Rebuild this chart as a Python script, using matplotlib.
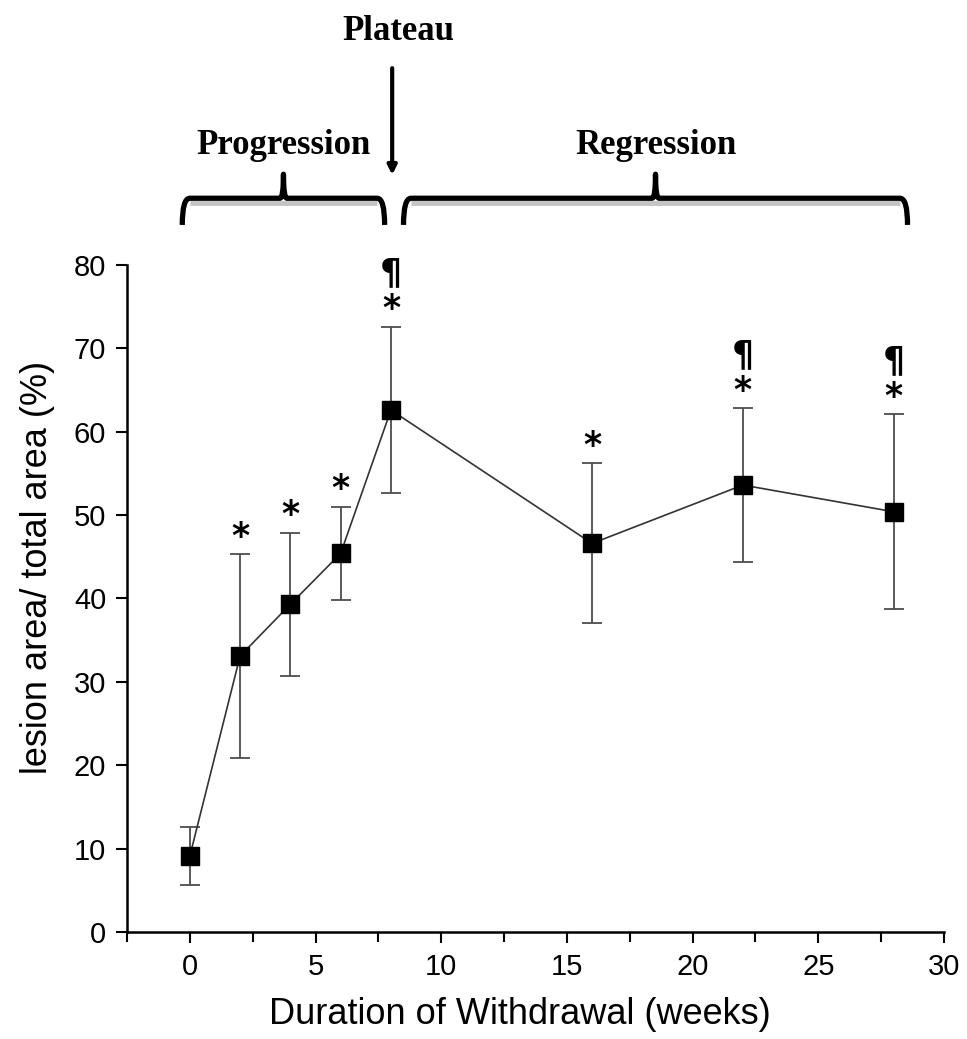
import numpy as np
import matplotlib
matplotlib.use("Agg")
import matplotlib.pyplot as plt
from matplotlib.path import Path
from matplotlib.patches import PathPatch

# data
weeks = [0, 2, 4, 6, 8, 16, 22, 28]
lesion_pct = [9.1, 33.1, 39.3, 45.4, 62.6, 46.6, 53.6, 50.4]
lesion_err = [3.5, 12.2, 8.6, 5.6, 10.0, 9.6, 9.2, 11.7]
star = [False, True, True, True, True, True, True, True]
pilcrow = [False, False, False, False, True, False, True, True]

phases = ["Progression", "Regression"]
phase_span = [(-0.3, 7.75), (8.5, 28.55)]


def draw_brace(ax, x0, x1, y_bot, y_top, y_tip, r=0.3, r_tip=0.14):
    tr = ax.get_xaxis_transform()
    xm = (x0 + x1) / 2
    # grey shadow under the brace
    ax.plot([x0 + r, x1 - r], [y_top - 0.007, y_top - 0.007], color="#c4c4c4",
            lw=3.5, transform=tr, clip_on=False, solid_capstyle="butt")
    verts = [(x0, y_bot), (x0, y_top), (x0 + r, y_top),
             (xm - r_tip, y_top), (xm, y_top), (xm, y_tip),
             (xm, y_top), (xm + r_tip, y_top),
             (x1 - r, y_top), (x1, y_top), (x1, y_bot)]
    codes = [Path.MOVETO, Path.CURVE3, Path.CURVE3,
             Path.LINETO, Path.CURVE3, Path.CURVE3,
             Path.CURVE3, Path.CURVE3,
             Path.LINETO, Path.CURVE3, Path.CURVE3]
    ax.add_patch(PathPatch(Path(verts, codes), fill=False, lw=3.8, edgecolor="black",
                           transform=tr, clip_on=False, capstyle="butt", joinstyle="round"))


plt.rcParams["font.family"] = ["Liberation Sans", "DejaVu Sans"]

fig = plt.figure(figsize=(9.67, 10.39), dpi=100)
ax = fig.add_axes([0.1313, 0.1030, 0.8449, 0.642])

ax.errorbar(weeks, lesion_pct, yerr=lesion_err, fmt="none", ecolor="#4d4d4d",
            elinewidth=1.3, capsize=7, capthick=1.3, zorder=2)
ax.plot(weeks, lesion_pct, color="#333333", lw=1.2, zorder=3)
ax.plot(weeks, lesion_pct, "s", color="black", markersize=12.5, zorder=4)

for x, y, e, s, p in zip(weeks, lesion_pct, lesion_err, star, pilcrow):
    if not s:
        continue
    label = "¶\n*" if p else "*"
    ax.annotate(label, xy=(x, y + e), xytext=(0, 0.5), textcoords="offset points",
                ha="center", va="bottom", fontsize=25, fontweight="bold",
                linespacing=1.05, family=["DejaVu Sans"])

ax.set_xlim(-2.5, 30)
ax.set_ylim(0, 80)
ax.set_xticks(np.arange(0, 31, 5))
ax.set_xticks(np.arange(-2.5, 30, 2.5), minor=True)
ax.set_yticks(np.arange(0, 81, 10))
for side in ["top", "right"]:
    ax.spines[side].set_visible(False)
for side in ["left", "bottom"]:
    ax.spines[side].set_linewidth(1.8)
ax.tick_params(axis="both", which="major", direction="out", length=8, width=1.5,
               labelsize=21, pad=7)
ax.tick_params(axis="x", which="minor", direction="out", length=7, width=1.5)
ax.set_xlabel("Duration of Withdrawal (weeks)", fontsize=26)
ax.set_ylabel("lesion area/ total area (%)", fontsize=26)
ax.xaxis.set_label_coords(0.481, -0.097)
ax.yaxis.set_label_coords(-0.088, 0.547)

# phase braces and labels above the axes
serif = dict(family=["Liberation Serif", "DejaVu Serif"], fontweight="bold", fontsize=25)
for name, (x0, x1) in zip(phases, phase_span):
    draw_brace(ax, x0, x1, 1.060, 1.100, 1.136)
    ax.text((x0 + x1) / 2, 1.179, name, transform=ax.get_xaxis_transform(),
            ha="center", va="center", **serif)

ax.annotate("", xy=(8.05, 1.135), xytext=(8.05, 1.295),
            xycoords=ax.get_xaxis_transform(), textcoords=ax.get_xaxis_transform(),
            arrowprops=dict(arrowstyle="-|>", lw=3, color="black", mutation_scale=13,
                            shrinkA=0, shrinkB=0))
ax.text(8.3, 1.35, "Plateau", transform=ax.get_xaxis_transform(),
        ha="center", va="center", **serif)

fig.savefig("out.png", dpi=100)
